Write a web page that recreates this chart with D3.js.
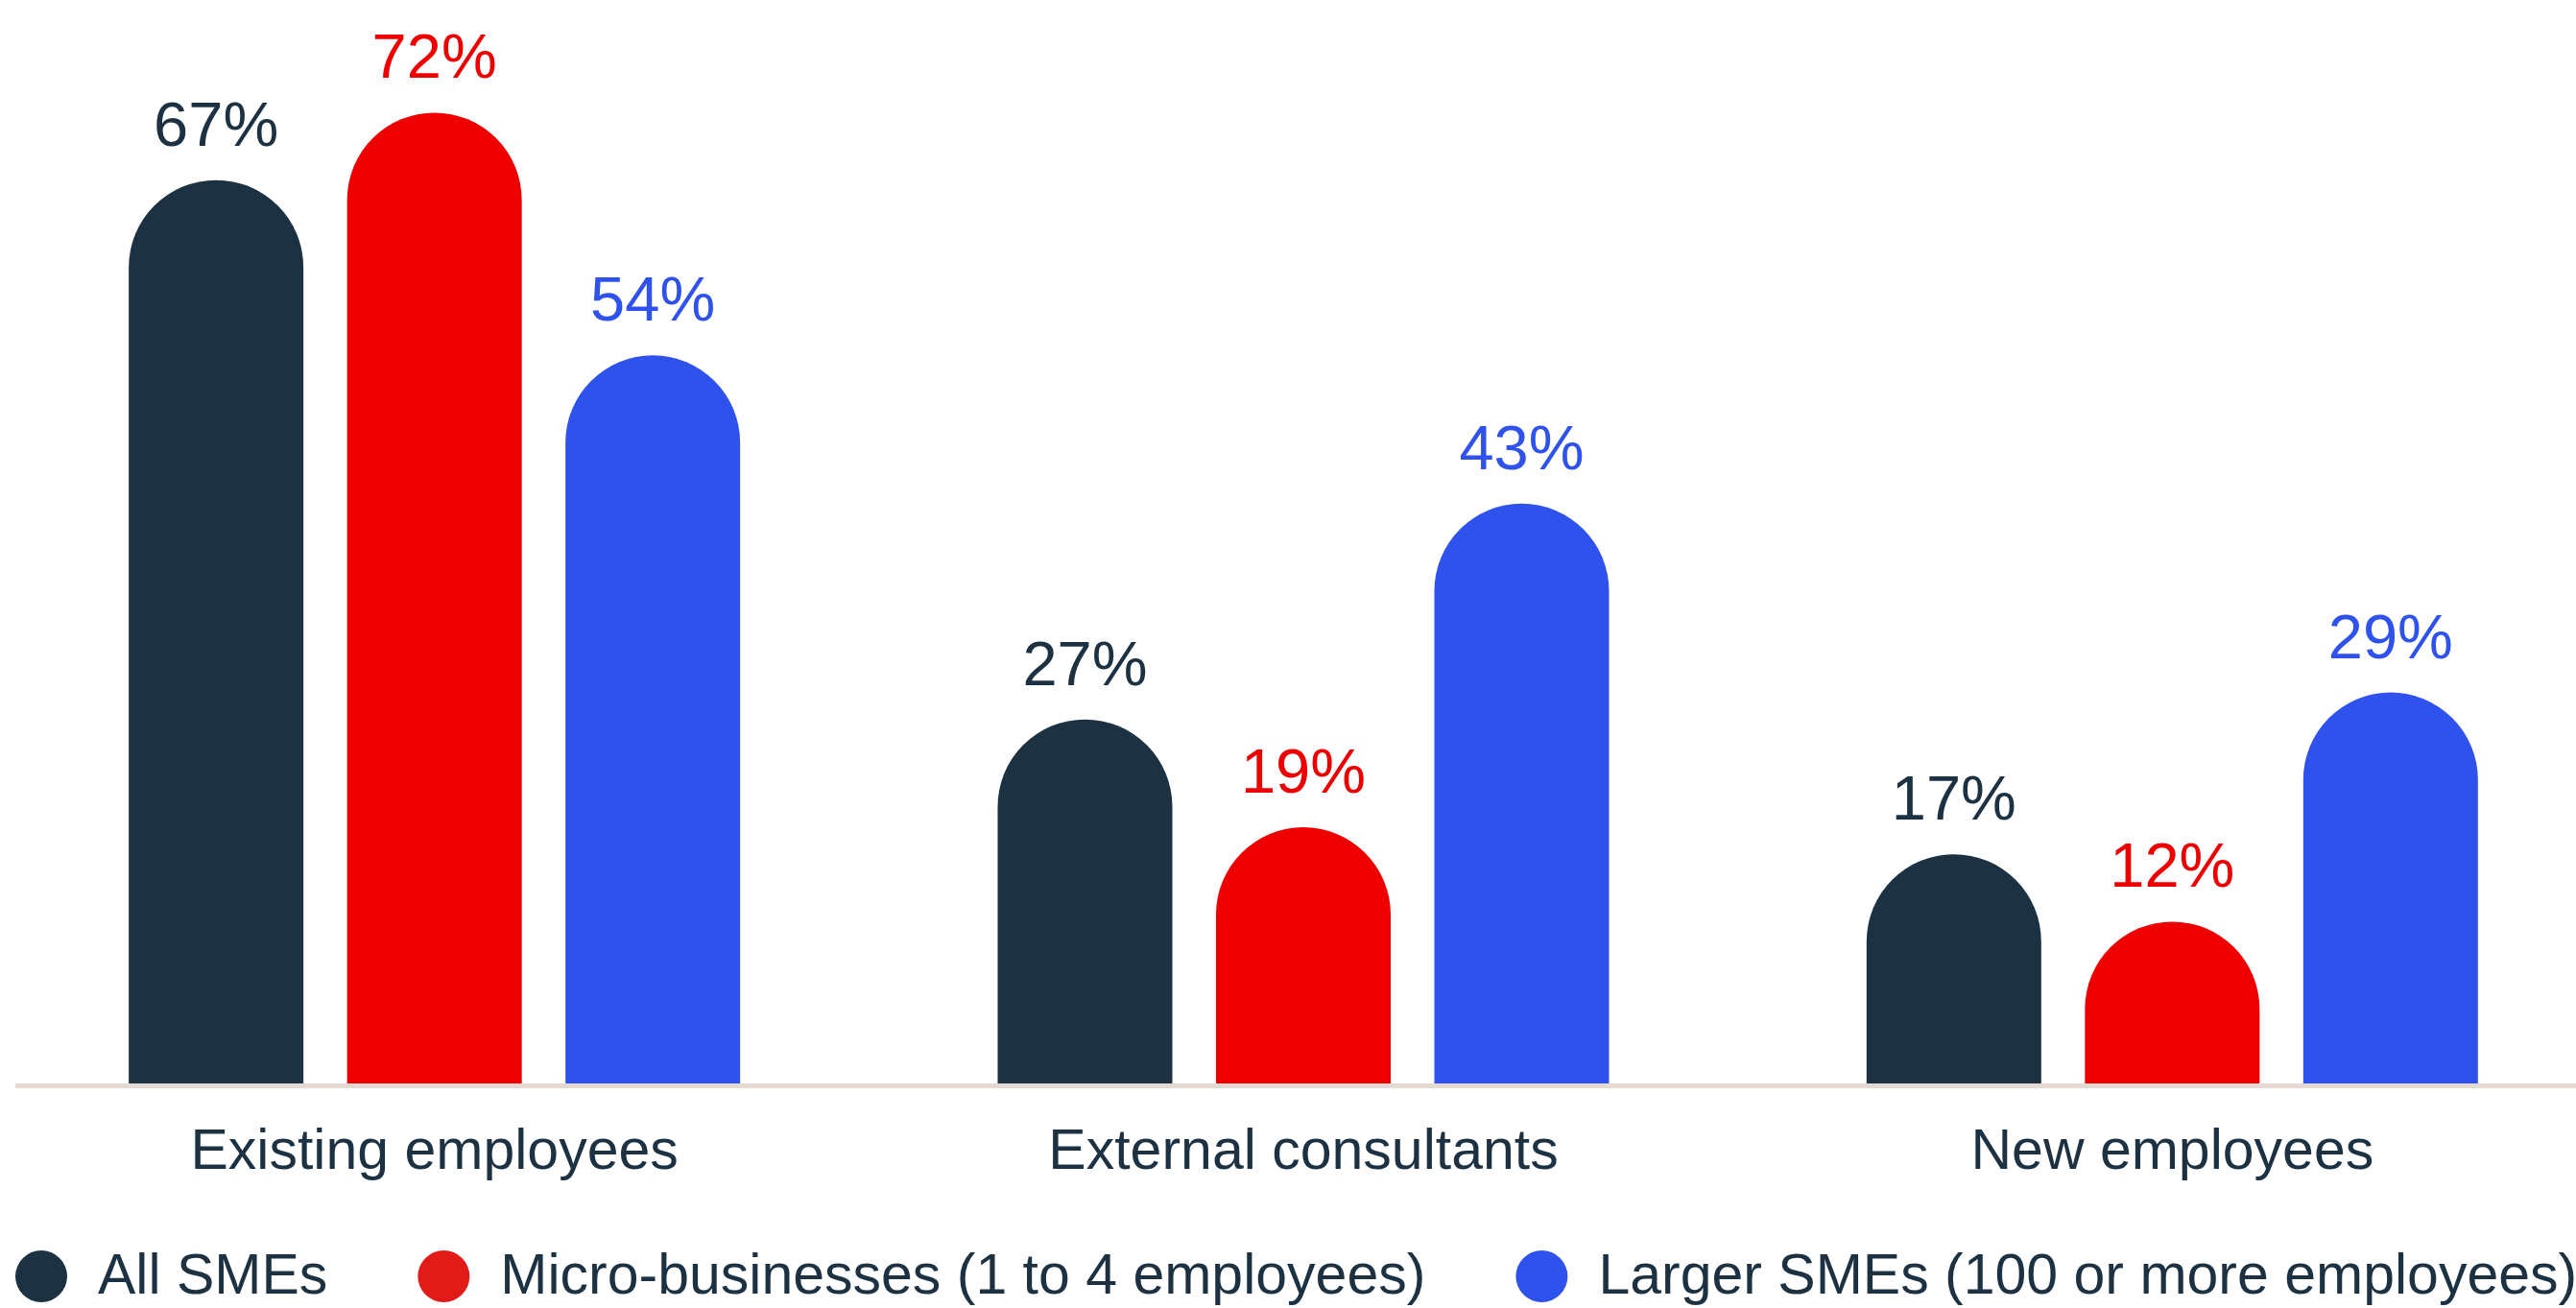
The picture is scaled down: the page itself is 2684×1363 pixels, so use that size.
<!DOCTYPE html>
<html>
<head>
<meta charset="utf-8">
<script src="https://cdn.jsdelivr.net/npm/d3@7"></script>
<style>
  html, body { margin: 0; padding: 0; background: #ffffff; }
  svg { display: block; }
  text { font-family: "Liberation Sans", Arial, sans-serif; }
</style>
</head>
<body>
<svg id="chart" width="2684" height="1363"></svg>
<script>
// Who delivers the work: share of SMEs by source (%)
const categories = ["Existing employees", "External consultants", "New employees"];
const seriesNames = ["All SMEs", "Micro-businesses (1 to 4 employees)", "Larger SMEs (100 or more employees)"];
const allSMEs = [67, 27, 17];
const microBusinesses = [72, 19, 12];
const largerSMEs = [54, 43, 29];

const seriesValues = [allSMEs, microBusinesses, largerSMEs];
const barColors = ["#1c3142", "#ee0000", "#2f52ec"];
const legendColors = ["#1c3142", "#e31b18", "#2f52ec"];
const textColor = "#1c3142";

const W = 2684, H = 1363;
const baseY = 1129;

const svg = d3.select("#chart");

const x0 = d3.scaleBand()
  .domain(categories)
  .range([0, 2716])
  .padding(0);

const x1 = d3.scaleBand()
  .domain(seriesNames)
  .range([111.4, 793.9])
  .paddingInner(0.2)
  .paddingOuter(0.1);

const y = d3.scaleLinear()
  .domain([0, 80])
  .range([baseY, 5]);

// flat data: one entry per bar
const bars = [];
categories.forEach((cat, ci) => {
  seriesNames.forEach((s, si) => {
    bars.push({ cat, series: s, si, value: seriesValues[si][ci] });
  });
});

// bar with a fully rounded (semicircular) top
function barPath(d) {
  const left = x0(d.cat) + x1(d.series);
  const w = x1.bandwidth();
  const r = w / 2;
  const top = y(d.value);
  const p = d3.path();
  p.moveTo(left, baseY);
  p.lineTo(left, top + r);
  p.arc(left + r, top + r, r, Math.PI, 0, false);
  p.lineTo(left + w, baseY);
  p.closePath();
  return p.toString();
}

svg.append("g")
  .selectAll("path")
  .data(bars)
  .join("path")
  .attr("d", barPath)
  .attr("fill", d => barColors[d.si]);

// value labels above each bar
svg.append("g")
  .selectAll("text")
  .data(bars)
  .join("text")
  .attr("x", d => x0(d.cat) + x1(d.series) + x1.bandwidth() / 2)
  .attr("y", d => y(d.value) - 36)
  .attr("text-anchor", "middle")
  .attr("font-size", 65)
  .attr("fill", d => barColors[d.si])
  .text(d => d.value + "%");

// baseline
svg.append("rect")
  .attr("x", 16)
  .attr("y", baseY)
  .attr("width", W - 16)
  .attr("height", 5)
  .attr("fill", "#e2dad3");

// category axis labels
const xAxis = svg.append("g")
  .attr("transform", `translate(0,${baseY + 5})`)
  .call(d3.axisBottom(x0).tickSize(0));
xAxis.select(".domain").remove();
xAxis.selectAll("text")
  .attr("y", 84)
  .attr("dy", 0)
  .attr("font-size", 59)
  .attr("font-family", "Liberation Sans, Arial, sans-serif")
  .attr("fill", textColor);

// legend
const legend = svg.append("g");
let lx = 16;
seriesNames.forEach((name, i) => {
  legend.append("circle")
    .attr("cx", lx + 27)
    .attr("cy", 1330)
    .attr("r", 27)
    .attr("fill", legendColors[i]);
  const t = legend.append("text")
    .attr("x", lx + 86)
    .attr("y", 1348)
    .attr("font-size", 59)
    .attr("fill", textColor)
    .text(name);
  lx = lx + 86 + t.node().getComputedTextLength() + 94;
});
</script>
</body>
</html>
